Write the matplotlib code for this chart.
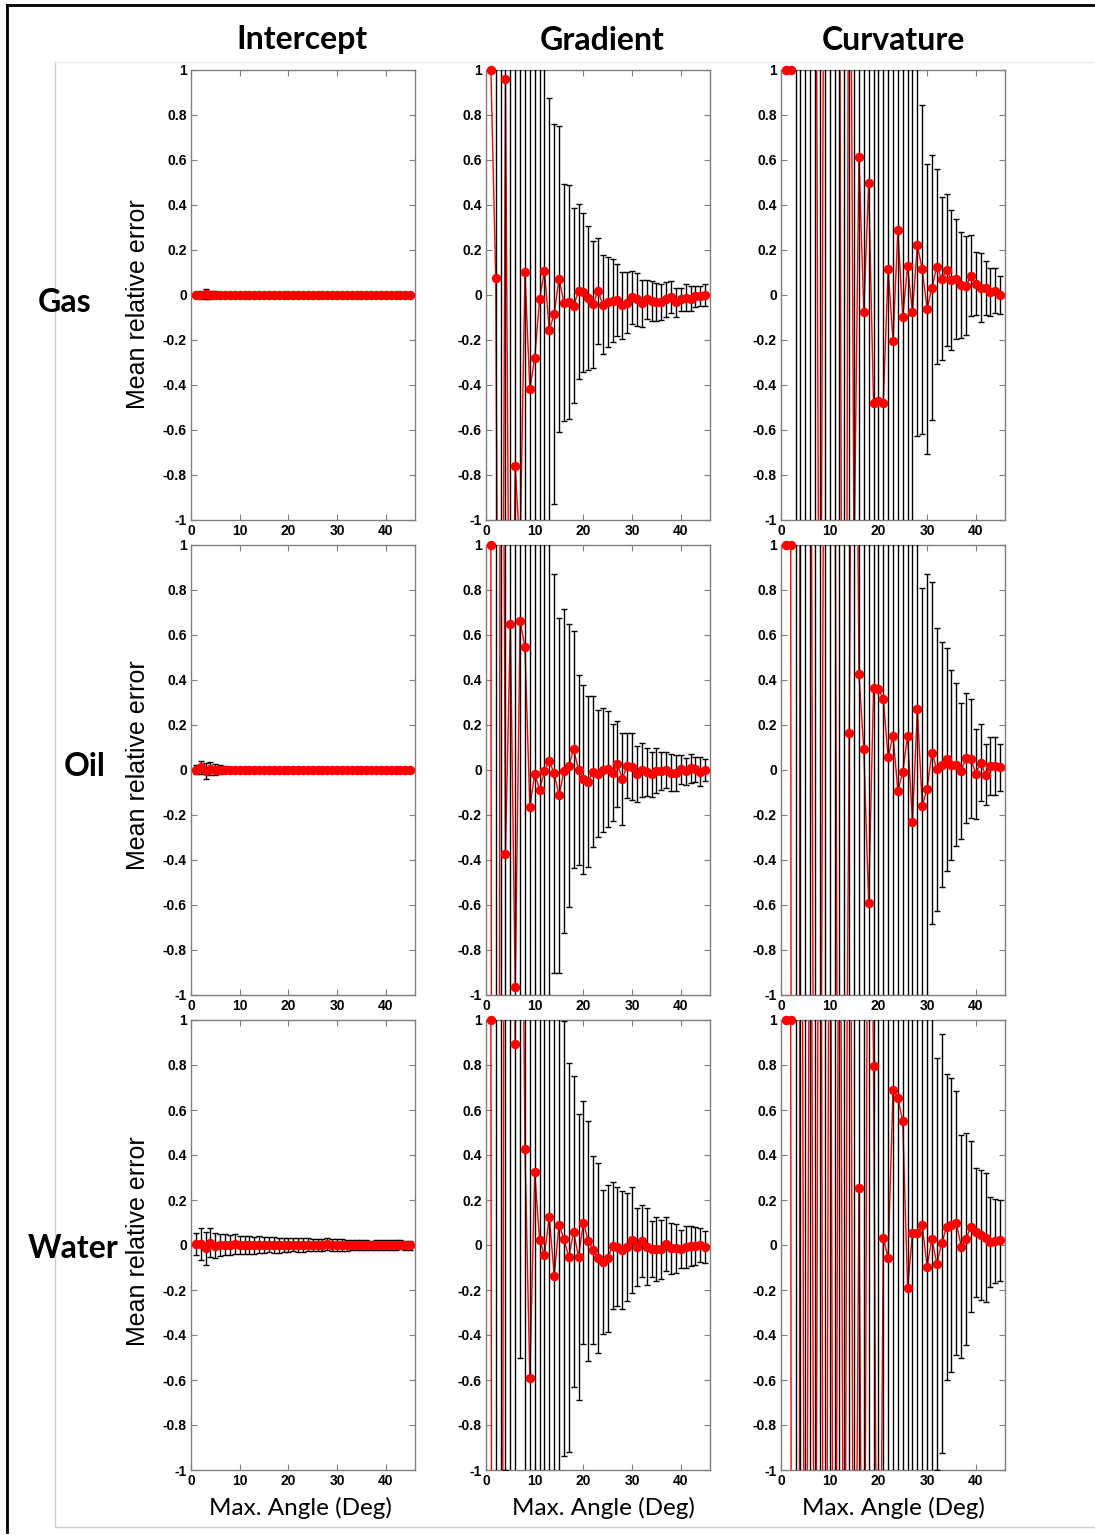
import numpy as np
import matplotlib
matplotlib.use("Agg")
import matplotlib.pyplot as plt
from matplotlib.lines import Line2D

# ------------------------------- Data -------------------------------
x = np.arange(1, 46)        # Max. angle (deg)

col_titles = ["Intercept", "Gradient", "Curvature"]
row_titles = ["Gas", "Oil", "Water"]
ytick_vals = [-1, -0.8, -0.6, -0.4, -0.2, 0, 0.2, 0.4, 0.6, 0.8, 1]
ytick_text = ["-1", "-0.8", "-0.6", "-0.4", "-0.2", "0", "0.2", "0.4", "0.6", "0.8", "1"]
xtick_vals = [0, 10, 20, 30, 40]

# Intercept
int_gas_mean = [0.002, -0.002, 0.003, 0.001, 0.002, 0.001, 0.000, 0.001, 0.000, 0.000,
                0.000, 0.000, 0.001, 0.000, 0.000, -0.001, 0.000, 0.000, 0.000, 0.000,
                0.000, 0.000, 0.000, 0.000, 0.000, 0.000, 0.000, 0.000, 0.000, 0.000,
                0.000, 0.000, 0.000, 0.000, 0.000, 0.000, 0.000, 0.000, 0.000, 0.000,
                0.000, 0.000, 0.000, 0.000, 0.000]
int_gas_err = [0.012, 0.018, 0.022, 0.018, 0.014, 0.011, 0.009, 0.008, 0.007, 0.006,
               0.006, 0.005, 0.005, 0.004, 0.004, 0.004, 0.004, 0.003, 0.003, 0.003,
               0.003, 0.003, 0.003, 0.003, 0.003, 0.003, 0.002, 0.002, 0.002, 0.002,
               0.002, 0.002, 0.002, 0.002, 0.002, 0.002, 0.002, 0.002, 0.002, 0.002,
               0.002, 0.002, 0.002, 0.002, 0.002]
int_oil_mean = [0.000, 0.012, -0.004, 0.006, 0.002, 0.000, 0.001, -0.001, 0.000, 0.001,
                0.000, 0.000, -0.001, 0.000, 0.000, 0.000, 0.000, 0.000, 0.000, 0.000,
                0.000, 0.000, 0.000, 0.000, 0.000, 0.000, 0.000, 0.000, 0.000, 0.000,
                0.000, 0.000, 0.000, 0.000, 0.000, 0.000, 0.000, 0.000, 0.000, 0.000,
                0.000, 0.000, 0.000, 0.000, 0.000]
int_oil_err = [0.020, 0.030, 0.035, 0.030, 0.024, 0.020, 0.015, 0.012, 0.010, 0.009,
               0.008, 0.007, 0.006, 0.006, 0.005, 0.005, 0.005, 0.004, 0.004, 0.004,
               0.004, 0.004, 0.004, 0.003, 0.003, 0.003, 0.003, 0.003, 0.003, 0.003,
               0.003, 0.003, 0.003, 0.003, 0.003, 0.003, 0.003, 0.003, 0.003, 0.003,
               0.003, 0.003, 0.003, 0.003, 0.003]
int_wat_mean = [0.004, 0.004, -0.015, 0.010, -0.003, 0.000, 0.002, 0.000, 0.006, 0.000,
                0.002, 0.000, -0.002, 0.001, 0.000, 0.002, 0.000, -0.001, 0.001, 0.000,
                0.002, 0.000, 0.000, 0.001, 0.000, 0.000, 0.000, 0.004, 0.000, 0.000,
                0.000, -0.001, 0.000, 0.000, 0.001, 0.000, -0.002, 0.000, 0.000, 0.001,
                0.000, 0.000, 0.001, 0.000, 0.000]
int_wat_err = [0.050, 0.070, 0.075, 0.065, 0.055, 0.050, 0.046, 0.045, 0.044, 0.041,
               0.040, 0.039, 0.038, 0.037, 0.036, 0.035, 0.034, 0.033, 0.032, 0.031,
               0.030, 0.030, 0.029, 0.028, 0.028, 0.027, 0.027, 0.026, 0.026, 0.025,
               0.025, 0.024, 0.024, 0.024, 0.023, 0.023, 0.022, 0.022, 0.022, 0.021,
               0.021, 0.021, 0.020, 0.020, 0.020]

# Gradient
grad_gas_mean = [1.0, 0.077, -4.0, 0.96, -2.5, -0.76, -1.15, 0.10, -0.42, -0.28,
                 -0.02, 0.108, -0.155, -0.085, 0.073, -0.034, -0.033, -0.047, 0.016, 0.012,
                 -0.012, -0.041, 0.018, -0.044, -0.030, -0.025, -0.022, -0.046, -0.034, -0.010,
                 -0.020, -0.037, -0.020, -0.027, -0.030, -0.030, -0.020, -0.010, -0.033, -0.020,
                 -0.012, -0.016, -0.006, -0.005, 0.000]
grad_gas_err = [0.0, 3.0, 6.0, 4.0, 5.0, 3.5, 2.5, 2.2, 1.8, 1.6,
                1.5, 1.3, 1.03, 0.845, 0.68, 0.527, 0.52, 0.433, 0.39, 0.353,
                0.32, 0.283, 0.237, 0.22, 0.20, 0.185, 0.16, 0.148, 0.134, 0.118,
                0.116, 0.104, 0.087, 0.087, 0.085, 0.079, 0.076, 0.07, 0.063, 0.05,
                0.061, 0.056, 0.047, 0.045, 0.047]
grad_oil_mean = [1.0, -19.0, 4.2, -0.375, 0.649, -0.966, 0.662, 0.545, -0.166, -0.016,
                 -0.087, -0.004, 0.040, -0.015, -0.113, -0.006, 0.019, 0.092, 0.000, -0.041,
                 -0.052, -0.007, -0.016, 0.001, 0.003, -0.012, 0.027, -0.039, 0.019, 0.015,
                 -0.019, 0.001, -0.009, -0.019, -0.004, -0.004, 0.000, -0.012, -0.013, 0.003,
                 -0.006, 0.007, 0.003, -0.007, 0.000]
grad_oil_err = [0.0, 25.0, 6.0, 3.0, 2.5, 3.0, 2.2, 2.0, 1.6, 1.4,
                1.3, 1.2, 1.1, 0.886, 0.79, 0.72, 0.63, 0.527, 0.422, 0.42,
                0.38, 0.336, 0.283, 0.276, 0.258, 0.216, 0.192, 0.204, 0.145, 0.148,
                0.125, 0.121, 0.108, 0.10, 0.10, 0.085, 0.081, 0.083, 0.08, 0.064,
                0.061, 0.064, 0.056, 0.063, 0.049]
grad_wat_mean = [1.0, -15.0, -6.0, 5.0, 3.0, 0.892, 3.0, 0.428, -0.593, 0.323,
                 0.022, -0.044, 0.126, -0.136, 0.089, 0.028, -0.055, 0.059, -0.052, 0.099,
                 0.019, -0.022, -0.059, -0.076, -0.059, -0.003, -0.007, -0.022, -0.007, 0.022,
                 -0.010, 0.018, -0.007, -0.018, -0.018, -0.019, 0.003, -0.015, -0.015, -0.019,
                 -0.009, -0.004, -0.004, 0.000, -0.010]
grad_wat_err = [0.0, 20.0, 8.0, 6.0, 5.0, 4.0, 3.5, 3.0, 2.5, 2.2,
                2.0, 1.8, 1.6, 1.4, 1.2, 0.966, 0.865, 0.69, 0.635, 0.54,
                0.533, 0.418, 0.422, 0.32, 0.327, 0.283, 0.265, 0.262, 0.24, 0.235,
                0.174, 0.16, 0.172, 0.126, 0.141, 0.13, 0.12, 0.115, 0.11, 0.084,
                0.093, 0.09, 0.083, 0.075, 0.072]

# Curvature
curv_gas_mean = [1.0, 1.0, 3.0, 4.0, 2.5, 5.0, 3.0, -3.0, 3.0, 4.0,
                 5.0, 2.0, -6.0, 3.0, -1.2, 0.615, -0.074, 0.496, -0.48, -0.47,
                 -0.48, 0.114, -0.204, 0.289, -0.096, 0.129, -0.077, 0.222, 0.114, -0.061,
                 0.033, 0.126, 0.073, 0.111, 0.067, 0.071, 0.044, 0.040, 0.086, 0.049,
                 0.033, 0.030, 0.012, 0.019, 0.000]
curv_gas_err = [0.0, 0.0, 9.0, 9.0, 8.0, 9.0, 8.0, 7.0, 7.0, 6.0,
                7.0, 5.0, 8.0, 5.0, 4.0, 3.0, 2.5, 2.5, 2.2, 2.0,
                1.9, 1.8, 1.7, 1.6, 1.5, 1.4, 1.3, 0.85, 0.73, 0.645,
                0.587, 0.433, 0.363, 0.338, 0.31, 0.267, 0.235, 0.22, 0.18, 0.14,
                0.152, 0.12, 0.106, 0.10, 0.086]
curv_oil_mean = [1.0, 1.0, -30.0, 5.0, 4.0, 3.0, -4.0, -3.0, 3.0, 4.0,
                 2.0, -4.0, -3.0, 0.166, 3.5, 0.425, 0.092, -0.59, 0.363, 0.358,
                 0.316, 0.056, 0.153, -0.092, -0.009, 0.153, -0.233, 0.273, -0.159, -0.084,
                 0.077, 0.003, 0.024, 0.047, 0.021, 0.024, -0.003, 0.053, 0.050, -0.016,
                 0.033, -0.021, 0.018, 0.018, 0.012]
curv_oil_err = [0.0, 0.0, 40.0, 9.0, 8.0, 7.0, 8.0, 7.0, 6.0, 7.0,
                5.0, 7.0, 6.0, 4.0, 6.0, 3.0, 2.6, 2.4, 2.2, 2.0,
                1.9, 1.8, 1.7, 1.6, 1.5, 1.4, 1.35, 1.3, 0.966, 0.954,
                0.76, 0.63, 0.546, 0.494, 0.423, 0.364, 0.302, 0.29, 0.264, 0.20,
                0.17, 0.135, 0.13, 0.13, 0.105]
curv_wat_mean = [1.0, 1.0, -25.0, 5.0, -4.0, 3.0, -3.0, 4.0, -5.0, 3.0,
                 -4.0, 3.0, -3.0, 4.0, -3.0, 0.252, -3.0, 3.0, 0.796, -3.0,
                 0.033, -0.059, 0.689, 0.652, 0.551, -0.193, 0.055, 0.055, 0.089, -0.096,
                 0.027, -0.084, 0.007, 0.079, 0.089, 0.099, -0.007, 0.027, 0.081, 0.056,
                 0.044, 0.033, 0.015, 0.019, 0.022]
curv_wat_err = [0.0, 0.0, 35.0, 9.0, 8.0, 7.0, 8.0, 7.0, 8.0, 7.0,
                6.0, 7.0, 6.0, 6.0, 5.0, 4.0, 6.0, 5.0, 3.0, 5.0,
                2.5, 2.4, 2.3, 2.2, 2.0, 1.9, 1.8, 1.7, 1.6, 1.5,
                1.3, 0.914, 0.93, 0.68, 0.655, 0.587, 0.495, 0.47, 0.38, 0.287,
                0.29, 0.287, 0.20, 0.187, 0.18]

panels = [
    [(int_gas_mean, int_gas_err), (grad_gas_mean, grad_gas_err), (curv_gas_mean, curv_gas_err)],
    [(int_oil_mean, int_oil_err), (grad_oil_mean, grad_oil_err), (curv_oil_mean, curv_oil_err)],
    [(int_wat_mean, int_wat_err), (grad_wat_mean, grad_wat_err), (curv_wat_mean, curv_wat_err)],
]

# ------------------------------- Figure -------------------------------
W, H = 1095, 1535
fig = plt.figure(figsize=(W / 100, H / 100), dpi=100)

def fx(px):
    return px / W

def fy(py):
    return 1 - py / H

col_left = [191, 486, 781]     # axes left edge (px)
row_top = [70, 545, 1020]      # axes top edge (px)
ax_w, ax_h = 224, 450

tick_kw = dict(family=["Liberation Sans", "DejaVu Sans"], fontweight="bold", fontsize=10)
frame_col = "#7f7f7f"

for r in range(3):
    for c in range(3):
        mean = np.array(panels[r][c][0])
        err = np.array(panels[r][c][1])
        ax = fig.add_axes([fx(col_left[c]), fy(row_top[r] + ax_h), fx(ax_w), ax_h / H])

        # red connecting line, black error bars, red markers on top
        ax.plot(x, mean, color="red", lw=1.0, zorder=2)
        ax.errorbar(x, mean, yerr=err, fmt="none", ecolor="black", elinewidth=1.0,
                    capsize=2.2, capthick=1.0, zorder=3)
        inside = (mean >= -1) & (mean <= 1)
        ax.plot(x[inside], mean[inside], "o", color="red", ms=5.8, mec="red",
                clip_on=False, zorder=4)

        ax.set_xlim(0, 46)
        ax.set_ylim(-1, 1)
        ax.tick_params(direction="in", length=4, width=0.8, color=frame_col,
                       top=True, right=True, pad=3)
        ax.set_yticks(ytick_vals)
        ax.set_yticklabels(ytick_text, **tick_kw)
        ax.set_xticks(xtick_vals)
        ax.set_xticklabels([str(v) for v in xtick_vals], **tick_kw)
        for sp in ax.spines.values():
            sp.set_color(frame_col)
            sp.set_linewidth(1.0)

# column titles
title_x = [302, 602, 893]
for c in range(3):
    fig.text(fx(title_x[c]), fy(40), col_titles[c], ha="center", va="center",
             fontsize=23, fontweight="bold", family=["Lato", "DejaVu Sans"])

# row titles and y labels
row_x = [65, 85, 73]
row_y = [302, 767, 1248]
ylab_y = [304, 765, 1241]
for r in range(3):
    fig.text(fx(row_x[r]), fy(row_y[r]), row_titles[r], ha="center", va="center",
             fontsize=23, fontweight="bold", family=["Lato", "DejaVu Sans"])
    fig.text(fx(138), fy(ylab_y[r]), "Mean relative error", ha="center", va="center",
             rotation=90, fontsize=18, family=["Liberation Sans", "DejaVu Sans"])

# x labels
xlab_x = [300, 603, 893]
for c in range(3):
    fig.text(fx(xlab_x[c]), fy(1508), "Max. Angle (Deg)", ha="center", va="center",
             fontsize=17.5, family=["Lato", "DejaVu Sans"])

# outer black frame and faint panel borders
fig.add_artist(Line2D([fx(7), fx(7)], [fy(5), fy(1532)], color="black", lw=2))
fig.add_artist(Line2D([fx(7), fx(1095)], [fy(5), fy(5)], color="black", lw=2))
fig.add_artist(Line2D([fx(55), fx(55)], [fy(62), fy(1527)], color="#d0d0d0", lw=1))
fig.add_artist(Line2D([fx(55), fx(1095)], [fy(1527), fy(1527)], color="#d0d0d0", lw=1))
fig.add_artist(Line2D([fx(55), fx(1095)], [fy(62), fy(62)], color="#ececec", lw=1))

fig.savefig("out.png", dpi=100)
